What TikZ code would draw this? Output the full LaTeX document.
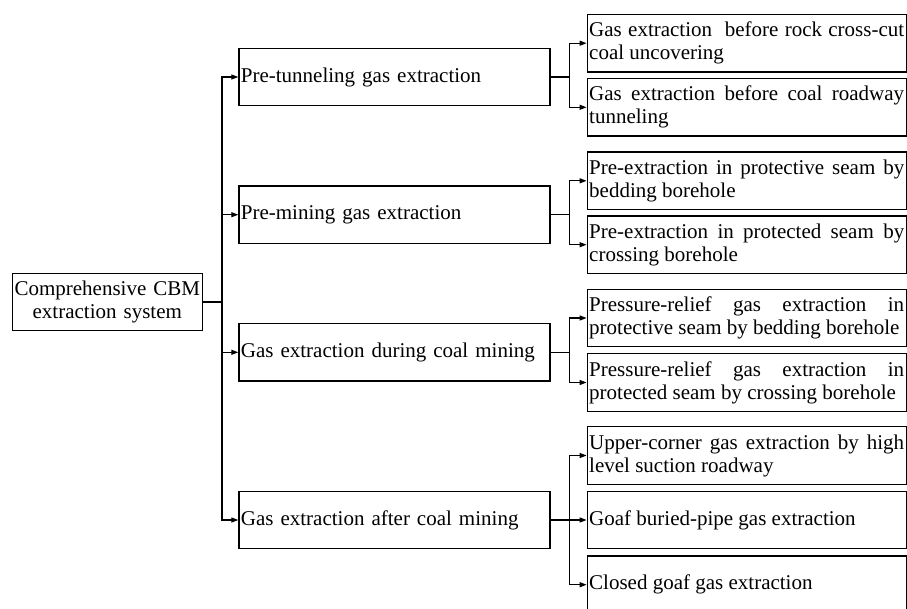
\documentclass[tikz,border=0pt]{standalone}
\usepackage{fontspec}
\setmainfont{Liberation Serif}
\tikzset{every picture/.style={/utils/exec={\fontsize{21}{23}\selectfont}}}
\usetikzlibrary{calc}
\usetikzlibrary{positioning,arrows.meta}
\tikzset{
  box/.style={draw, line width=1.2pt, minimum height=57.5pt, inner sep=2pt},
  rootbox/.style={box, minimum width=190pt, text width=186pt, align=center},
  midbox/.style={box, minimum width=311pt, text width=307pt, align=left},
  leafbox/.style={box, minimum width=319pt, text width=315pt, align=justify},
  link/.style={line width=1.2pt, -{Triangle[length=7pt,width=5pt]}}
}
\begin{document}
\begin{tikzpicture}[x=1pt,y=-1pt]
  \useasboundingbox (0,0) rectangle (907,608);

  \node [rootbox] (cbm) at (107.3,302) {Comprehensive CBM\\extraction system};

  \node [midbox] (pretun) at (394.4,77) {Pre-tunneling gas extraction};
  \node [midbox] (premin) at (394.4,214.7) {Pre-mining gas extraction};
  \node [midbox] (during) at (394.4,352.3) {Gas extraction during coal mining};
  \node [midbox] (after) at (394.4,520) {Gas extraction after coal mining};

  \node [leafbox] (crosscut) at (746.7,43.2) {Gas extraction~ before rock cross-cut\linebreak coal uncovering};
  \node [leafbox] (roadway) at (746.7,107.3) {Gas extraction before coal roadway\linebreak tunneling};
  \node [leafbox] (protective) at (746.7,180.8) {Pre-extraction in protective seam by\linebreak bedding borehole};
  \node [leafbox] (protected) at (746.7,244.7) {Pre-extraction in protected seam by\linebreak crossing borehole};
  \node [leafbox] (reliefbed) at (746.7,318) {Pressure-relief gas extraction in\linebreak protective seam by bedding borehole};
  \node [leafbox] (reliefcross) at (746.7,382.5) {Pressure-relief gas extraction in\linebreak protected seam by crossing borehole};
  \node [leafbox] (uppercorner) at (746.7,455.5) {Upper-corner gas extraction by high\linebreak level suction roadway};
  \node [leafbox] (buriedpipe) at (746.7,520) {Goaf buried-pipe gas extraction};
  \node [leafbox] (closedgoaf) at (746.7,584.7) {Closed goaf gas extraction};

  \foreach \m in {pretun,premin,during,after}
    \draw [link] (cbm.east) -- ++(19,0) |- (\m.west);

  \foreach \m/\l in {pretun/crosscut, pretun/roadway, premin/protective, premin/protected,
      during/reliefbed, during/reliefcross, after/uppercorner, after/buriedpipe, after/closedgoaf}
    \draw [link] (\m.east) -- ++(19,0) |- (\l.west);
\end{tikzpicture}
\end{document}
